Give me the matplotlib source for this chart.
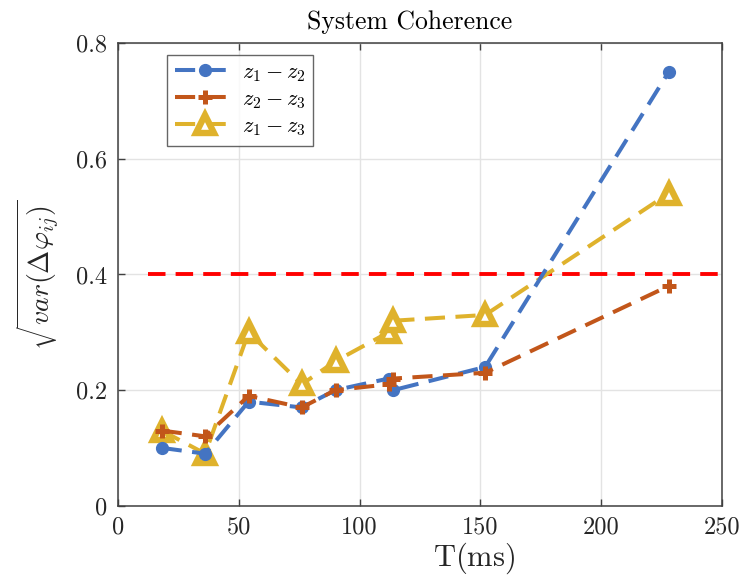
import matplotlib
matplotlib.use("Agg")
import matplotlib.pyplot as plt

plt.rcParams["font.family"] = "serif"
plt.rcParams["font.serif"] = ["cmr10", "DejaVu Serif"]
plt.rcParams["mathtext.fontset"] = "cm"
plt.rcParams["axes.formatter.use_mathtext"] = True

# Measurement data
t_ms = [18, 36, 54, 76, 90, 112, 114, 152, 228]
z12 = [0.10, 0.09, 0.18, 0.17, 0.20, 0.22, 0.20, 0.24, 0.75]
z23 = [0.13, 0.12, 0.19, 0.17, 0.20, 0.21, 0.22, 0.23, 0.38]
z13 = [0.13, 0.09, 0.30, 0.21, 0.25, 0.30, 0.32, 0.33, 0.54]
threshold = 0.40
threshold_span = [12.5, 250]

x_ticks = [0, 50, 100, 150, 200, 250]
x_ticklabels = ["0", "50", "100", "150", "200", "250"]
y_ticks = [0, 0.2, 0.4, 0.6, 0.8]
y_ticklabels = ["0", "0.2", "0.4", "0.6", "0.8"]

c_blue = "#4474C2"
c_orange = "#C2561A"
c_yellow = "#DFB22C"
axis_col = "#404040"

fig = plt.figure(figsize=(7.43, 5.81), dpi=100)
ax = fig.add_axes([0.1592, 0.1296, 0.8121, 0.7959])

dash = (5.0, 2.6)
lw = 2.9
ax.plot(t_ms, z12, color=c_blue, lw=lw, dashes=dash, marker="o",
        markersize=8.5, label=r"$z_1 - z_2$", zorder=3)
ax.plot(t_ms, z23, color=c_orange, lw=lw, dashes=dash, marker="+",
        markersize=10, markeredgewidth=3.6, label=r"$z_2 - z_3$", zorder=4)
ax.plot(t_ms, z13, color=c_yellow, lw=lw, dashes=dash, marker="^",
        markersize=13, markerfacecolor="white", markeredgewidth=4.6,
        label=r"$z_1 - z_3$", zorder=2)
ax.plot(threshold_span, [threshold, threshold], color="#FF0000", lw=2.8,
        dashes=(4.5, 2.6), zorder=1)

ax.set_xlim(0, 250)
ax.set_ylim(0, 0.8)
ax.set_xticks(x_ticks)
ax.set_xticklabels(x_ticklabels)
ax.set_yticks(y_ticks)
ax.set_yticklabels(y_ticklabels)
ax.tick_params(direction="in", length=5, width=1.0, colors=axis_col,
               labelcolor="#262626", labelsize=17.5, top=True, right=False,
               pad=8)
ax.grid(True, color="#E3E3E3", lw=1.0)
ax.set_axisbelow(True)
for s in ax.spines.values():
    s.set_color(axis_col)
    s.set_linewidth(1.1)

ax.set_title("System Coherence", fontsize=18.5, color="black", pad=10,
             x=0.483)
ax.set_xlabel(r"$\mathrm{T(ms)}$", fontsize=22, color="#262626")
ax.xaxis.set_label_coords(0.59, -0.075, transform=ax.transAxes)
ax.xaxis.label.set_va("top")
ax.set_ylabel(r"$\sqrt{var(\Delta\varphi_{ij})}$", fontsize=20,
              color="#262626", labelpad=10)

leg = ax.legend(loc="upper left", bbox_to_anchor=(0.081, 0.975),
                fontsize=16, frameon=True, fancybox=False,
                edgecolor=axis_col, handlelength=2.7, handletextpad=0.3,
                borderpad=0.35, labelspacing=0.25, borderaxespad=0)
leg.get_frame().set_linewidth(1.0)

fig.savefig("out.png", dpi=100, facecolor="white")
